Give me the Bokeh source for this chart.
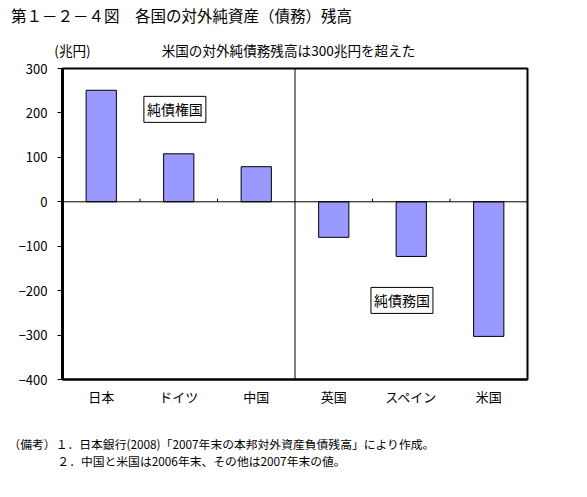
from bokeh.plotting import figure
from bokeh.models import Range1d, Span, Label, FixedTicker, LinearAxis, LinearScale
from bokeh.embed import file_html
from bokeh.resources import INLINE

countries = ["日本", "ドイツ", "中国", "英国", "スペイン", "米国"]
values = [251, 108, 79, -80, -123, -303]
y_ticks = [-400, -300, -200, -100, 0, 100, 200, 300]

title_text = "第１－２－４図　各国の対外純資産（債務）残高"
subtitle_text = "米国の対外純債務残高は300兆円を超えた"
unit_text = "(兆円)"
creditor_text = "純債権国"
debtor_text = "純債務国"
note_first = "（備考）１．日本銀行(2008)「2007年末の本邦対外資産負債残高」により作成。"
note_second = "２．中国と米国は2006年末、その他は2007年末の値。"

FONT = "Noto Sans CJK JP"
W, H = 571, 481
FL, FR, FT, FB = 62, 527, 68, 379   # frame edges (pixels)

n = len(countries)
centers = [i + 0.5 for i in range(n)]

p = figure(width=W, height=H,
           x_range=Range1d(0, n), y_range=Range1d(-400, 300),
           output_backend="svg", toolbar_location=None,
           min_border_left=FL, min_border_right=W - FR,
           min_border_top=FT, min_border_bottom=H - FB)
p.title.visible = False
p.background_fill_color = "white"
p.border_fill_color = "white"
p.outline_line_color = "black"
p.outline_line_width = 2
p.xgrid.visible = False
p.ygrid.visible = False

p.vbar(x=centers, top=values, bottom=0, width=0.39,
       fill_color="#9999FF", line_color="black", line_width=1)

p.add_layout(Span(location=0, dimension="width", line_color="black", line_width=1))
p.add_layout(Span(location=n / 2, dimension="height", line_color="black", line_width=1))

bounds = [i for i in range(1, n) if i != n // 2]
p.segment(x0=bounds, x1=bounds, y0=[0] * len(bounds), y1=[7] * len(bounds),
          line_color="black", line_width=1)

p.yaxis.ticker = FixedTicker(ticks=y_ticks, minor_ticks=[])
p.yaxis.axis_line_width = 3
p.yaxis.major_tick_out = 5
p.yaxis.major_tick_in = 0
p.yaxis.minor_tick_line_color = None
p.yaxis.major_label_standoff = 10
p.yaxis.major_label_text_font = FONT
p.yaxis.major_label_text_font_size = "13px"
p.yaxis.major_label_text_color = "black"

p.xaxis.ticker = FixedTicker(ticks=centers, minor_ticks=[])
p.xaxis.major_label_overrides = dict(zip(centers, countries))
p.xaxis.axis_line_width = 2
p.xaxis.major_tick_line_color = None
p.xaxis.minor_tick_line_color = None
p.xaxis.major_tick_out = 0
p.xaxis.major_tick_in = 0
p.xaxis.major_label_standoff = 7
p.xaxis.major_label_text_font = FONT
p.xaxis.major_label_text_font_size = "13px"
p.xaxis.major_label_text_color = "black"

for x, y, t in [(1.45, 208, creditor_text), (4.38, -222, debtor_text)]:
    p.add_layout(Label(x=x, y=y, text=t, text_align="center", text_baseline="middle",
                       text_font=FONT, text_font_size="14px", text_color="black",
                       border_line_color="black", border_line_width=1,
                       background_fill_color="white", padding=3))

# text rows around the chart: label-only axes on a pixel-like range
p.extra_x_ranges = {"txt": Range1d(FL, FR)}
p.extra_x_scales = {"txt": LinearScale()}


def text_row(place, pos, texts, size, standoff):
    ax = LinearAxis(x_range_name="txt",
                    ticker=FixedTicker(ticks=pos, minor_ticks=[]),
                    major_label_overrides=dict(zip(pos, texts)),
                    axis_line_color=None, major_tick_line_color=None,
                    minor_tick_line_color=None, major_tick_out=0, major_tick_in=0,
                    minor_tick_out=0, minor_tick_in=0,
                    major_label_standoff=standoff,
                    major_label_text_font=FONT, major_label_text_font_size=size,
                    major_label_text_color="black")
    p.add_layout(ax, place)


text_row("above", [72, 288], [unit_text, subtitle_text], "13.6px", 9)
text_row("above", [181], [title_text], "15.5px", 11)
text_row("below", [221], [note_first], "11.8px", 26)
text_row("below", [201], [note_second], "11.8px", -3)

open("out.html", "w").write(file_html(p, INLINE))
